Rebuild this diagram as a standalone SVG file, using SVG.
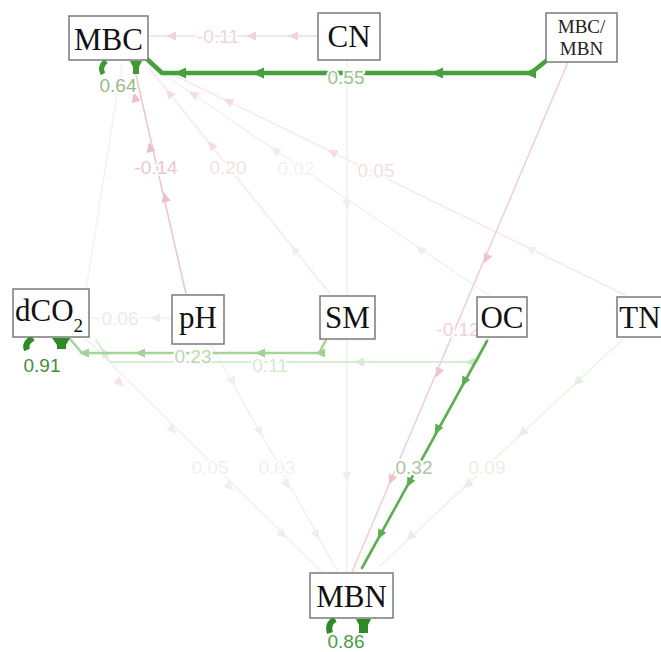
<svg xmlns="http://www.w3.org/2000/svg" xmlns:xlink="http://www.w3.org/1999/xlink" width="661" height="652" viewBox="0 0 661 652">
<style>
.box{fill:#fff;stroke:#7a7a7a;stroke-width:1.5}
.nt{font-family:"Liberation Serif","Times New Roman",serif;font-size:31px;fill:#111;text-anchor:middle}
.nts{font-family:"Liberation Serif","Times New Roman",serif;font-size:19px;fill:#222;text-anchor:middle}
.el{font-family:"Liberation Sans",Arial,sans-serif;font-size:19px;text-anchor:middle;stroke:#fff;stroke-width:4;paint-order:stroke;stroke-linejoin:round}
.e{fill:none;stroke-linecap:round;stroke-linejoin:round}
.stub{fill:none;stroke-linecap:butt}
</style>
<defs>
<path id="ah" d="M5,0 L-5,-4.5 L-5,4.5 Z"/>
<path id="ahb" d="M6,0 L-6,-5.5 L-6,5.5 Z"/>
</defs>
<rect width="661" height="652" fill="#fff"/>
<g id="connectors">
  <!-- faint gray / pink edges -->
  <line class="e" x1="86" y1="290" x2="122" y2="63" stroke="#f2f2f2" stroke-width="1.5"/>
  <line class="e" x1="347" y1="60" x2="347" y2="295" stroke="#f0f0f0" stroke-width="1.5"/>
  <use xlink:href="#ah" transform="translate(347,205) rotate(90)" fill="#eeeeee"/>
  <line class="e" x1="347" y1="339" x2="347" y2="572" stroke="#f0f0f0" stroke-width="1.5"/>
  <use xlink:href="#ah" transform="translate(347,477) rotate(90)" fill="#eeeeee"/>

  <line class="e" x1="330" y1="294" x2="150" y2="69" stroke="#f8e9eb" stroke-width="1.5"/>
  <use xlink:href="#ah" transform="translate(169,93) rotate(-128.6)" fill="#f5dde1"/>
  <use xlink:href="#ah" transform="translate(211,145) rotate(-128.6)" fill="#f5dde1"/>
  <use xlink:href="#ah" transform="translate(294,249) rotate(-128.6)" fill="#f2eeee"/>
  <text class="el" x="228" y="174" fill="#f5e2e5">0.20</text>

  <line class="e" x1="490" y1="296" x2="160" y2="72" stroke="#f1f1f1" stroke-width="1.5"/>
  <use xlink:href="#ah" transform="translate(193,94) rotate(-145.8)" fill="#f3e0e3"/>
  <use xlink:href="#ah" transform="translate(275,150) rotate(-145.8)" fill="#eeeeee"/>
  <use xlink:href="#ah" transform="translate(420,249) rotate(-145.8)" fill="#eeeeee"/>
  <text class="el" x="296" y="175" fill="#f2f2f2">0.02</text>

  <line class="e" x1="625" y1="295" x2="172" y2="74" stroke="#f7e9eb" stroke-width="1.5"/>
  <use xlink:href="#ah" transform="translate(228,101) rotate(-153.9)" fill="#f4dce0"/>
  <use xlink:href="#ah" transform="translate(332,152) rotate(-153.9)" fill="#f4dce0"/>
  <use xlink:href="#ah" transform="translate(530,249) rotate(-153.9)" fill="#f0f0f0"/>
  <text class="el" x="376" y="177" fill="#f3dfe2">0.05</text>

  <!-- CN -> MBC -->
  <line class="e" x1="318" y1="36" x2="148" y2="36" stroke="#f6dde1" stroke-width="1.5"/>
  <use xlink:href="#ah" transform="translate(171,36) rotate(180)" fill="#f3d2d8"/>
  <use xlink:href="#ah" transform="translate(251,36) rotate(180)" fill="#f3d2d8"/>
  <use xlink:href="#ah" transform="translate(293,36) rotate(180)" fill="#f3d2d8"/>
  <text class="el" x="218" y="43" fill="#f2d3d8">-0.11</text>

  <!-- pH -> MBC -->
  <line class="e" x1="186" y1="294" x2="133" y2="62" stroke="#efc6ce" stroke-width="1.6"/>
  <use xlink:href="#ah" transform="translate(135,97) rotate(-102.9)" fill="#edc0c9"/>
  <use xlink:href="#ah" transform="translate(150,147) rotate(-102.9)" fill="#edc0c9"/>
  <use xlink:href="#ah" transform="translate(165,197) rotate(-102.9)" fill="#edc0c9"/>
  <text class="el" x="156" y="174" fill="#ecc6cd">-0.14</text>

  <!-- MBC/MBN -> MBC -->
  <polyline class="e" points="546,61 531,73 162,73 148,60" stroke="#46a03c" stroke-width="4.5"/>
  <use xlink:href="#ahb" transform="translate(530,73) rotate(180)" fill="#46a03c"/>
  <use xlink:href="#ahb" transform="translate(437,73) rotate(180)" fill="#46a03c"/>
  <use xlink:href="#ahb" transform="translate(258,73) rotate(180)" fill="#46a03c"/>
  <use xlink:href="#ahb" transform="translate(180,73) rotate(180)" fill="#46a03c"/>
  <text class="el" x="346" y="84" fill="#93c58b" stroke-width="6">0.55</text>

  <!-- pH -> dCO2 -->
  <line class="e" x1="172" y1="318" x2="89" y2="318" stroke="#f0f5ee" stroke-width="1.5"/>
  <use xlink:href="#ah" transform="translate(155,318) rotate(180)" fill="#e8f0e6"/>
  <text class="el" x="120" y="325" fill="#e6eee4">0.06</text>

  <!-- dCO2 -> MBN, pH -> MBN -->
  <line class="e" x1="85" y1="338" x2="322" y2="572" stroke="#f2f0f0" stroke-width="1.5"/>
  <use xlink:href="#ah" transform="translate(120,383) rotate(44.6)" fill="#f5e3e5"/>
  <use xlink:href="#ah" transform="translate(173,430) rotate(44.6)" fill="#eeeeee"/>
  <use xlink:href="#ah" transform="translate(230,487) rotate(44.6)" fill="#eeeeee"/>
  <use xlink:href="#ah" transform="translate(283,535) rotate(44.6)" fill="#eeeeee"/>
  <text class="el" x="210" y="474" fill="#f0f0f0">0.05</text>
  <line class="e" x1="209" y1="341" x2="338" y2="572" stroke="#f1f1f1" stroke-width="1.5"/>
  <use xlink:href="#ah" transform="translate(233,382) rotate(60.9)" fill="#e9f2e7"/>
  <use xlink:href="#ah" transform="translate(260,432) rotate(60.9)" fill="#eeeeee"/>
  <use xlink:href="#ah" transform="translate(287,485) rotate(60.9)" fill="#eeeeee"/>
  <use xlink:href="#ah" transform="translate(317,535) rotate(60.9)" fill="#eeeeee"/>
  <text class="el" x="277" y="474" fill="#f0f0f0">0.03</text>

  <!-- TN -> MBN -->
  <line class="e" x1="624" y1="338" x2="380" y2="566" stroke="#ebf4e8" stroke-width="1.6"/>
  <use xlink:href="#ah" transform="translate(577,382) rotate(137.1)" fill="#e4efe1"/>
  <use xlink:href="#ah" transform="translate(522,433) rotate(137.1)" fill="#e4efe1"/>
  <use xlink:href="#ah" transform="translate(467,485) rotate(137.1)" fill="#e4efe1"/>
  <use xlink:href="#ah" transform="translate(410,537) rotate(137.1)" fill="#e4efe1"/>
  <text class="el" x="487" y="474" fill="#e6f0e3">0.09</text>

  <!-- OC -> dCO2 -->
  <polyline class="e" points="488,339 477,362 110,362 96,340" stroke="#d8eed3" stroke-width="1.8"/>
  <use xlink:href="#ah" transform="translate(470,362) rotate(180)" fill="#cde8c7"/>
  <use xlink:href="#ah" transform="translate(359,362) rotate(180)" fill="#d8ebd4"/>
  <use xlink:href="#ah" transform="translate(104,352) rotate(-123)" fill="#d8ebd4"/>
  <text class="el" x="270" y="372" fill="#d5eacf">0.11</text>

  <!-- SM -> dCO2 -->
  <polyline class="e" points="326,340 319,353 82,353 70,339" stroke="#a3d599" stroke-width="2.5"/>
  <use xlink:href="#ah" transform="translate(320,353) rotate(180)" fill="#9fd395"/>
  <use xlink:href="#ah" transform="translate(260,353) rotate(180)" fill="#9fd395"/>
  <use xlink:href="#ah" transform="translate(140,353) rotate(180)" fill="#9fd395"/>
  <use xlink:href="#ah" transform="translate(84,353) rotate(180)" fill="#9fd395"/>
  <text class="el" x="193" y="363" fill="#b6daad">0.23</text>

  <!-- MBC/MBN -> MBN -->
  <line class="e" x1="568" y1="62" x2="352" y2="572" stroke="#f2ccd3" stroke-width="1.5"/>
  <use xlink:href="#ah" transform="translate(486,259) rotate(113)" fill="#f0c2cb"/>
  <use xlink:href="#ah" transform="translate(438,373) rotate(113)" fill="#f0c2cb"/>
  <use xlink:href="#ah" transform="translate(391,480) rotate(113)" fill="#f0c2cb"/>
  <text class="el" x="458" y="336" fill="#f1d2d8">-0.12</text>

  <!-- OC -> MBN -->
  <line class="e" x1="487" y1="341" x2="362" y2="568" stroke="#5caf50" stroke-width="2.6"/>
  <use xlink:href="#ah" transform="translate(464,382) rotate(118.7)" fill="#5caf50"/>
  <use xlink:href="#ah" transform="translate(437,430) rotate(118.7)" fill="#5caf50"/>
  <use xlink:href="#ah" transform="translate(409,483) rotate(118.7)" fill="#5caf50"/>
  <use xlink:href="#ah" transform="translate(380,535) rotate(118.7)" fill="#5caf50"/>
  <text class="el" x="414" y="474" fill="#a6c69d">0.32</text>

  <!-- residual loops -->
  <path class="stub" d="M106,61 Q99,67 103,74" stroke="#3e9a33" stroke-width="5"/>
  <path d="M130,61 L142,61 L139,67 L139,74 L133,74 L133,67 Z" fill="#3e9a33"/>
  <text class="el" x="118" y="92" fill="#94bc8c" stroke-width="3">0.64</text>

  <path class="stub" d="M33,338 Q24,343 27,350" stroke="#2e8a24" stroke-width="6"/>
  <path d="M52,338 L70,338 L66,345 L66,349 L57,349 L57,345 Z" fill="#2e8a24"/>
  <text class="el" x="42" y="372" fill="#3f8f3a" stroke-width="3">0.91</text>

  <path class="stub" d="M335,619 Q327,624 330,633" stroke="#2e8a24" stroke-width="6"/>
  <path d="M356,619 L371,619 L368,625 L368,633 L359,633 L359,625 Z" fill="#2e8a24"/>
  <text class="el" x="346" y="648" fill="#4d9d48" stroke-width="3">0.86</text>
</g>
<g id="node-MBC">
  <rect class="box" x="69" y="16" width="79" height="44"/>
  <text class="nt" x="108.5" y="50">MBC</text>
</g>
<g id="node-CN">
  <rect class="box" x="318" y="13" width="62" height="47"/>
  <text class="nt" x="349" y="47">CN</text>
</g>
<g id="node-MBC-MBN">
  <rect class="box" x="546" y="13" width="71" height="49"/>
  <text class="nts" x="581.5" y="33">MBC/</text>
  <text class="nts" x="581.5" y="55">MBN</text>
</g>
<g id="node-dCO2">
  <rect class="box" x="13" y="289" width="76" height="48"/>
  <text class="nt" x="15" y="321" style="text-anchor:start">dCO<tspan font-size="19" dy="11">2</tspan></text>
</g>
<g id="node-pH">
  <rect class="box" x="172" y="295" width="52" height="49"/>
  <text class="nt" x="198" y="328">pH</text>
</g>
<g id="node-SM">
  <rect class="box" x="320" y="296" width="55" height="43"/>
  <text class="nt" x="347.5" y="328">SM</text>
</g>
<g id="node-OC">
  <rect class="box" x="477" y="297" width="50" height="40"/>
  <text class="nt" x="502" y="328">OC</text>
</g>
<g id="node-TN">
  <rect class="box" x="617" y="297" width="50" height="40"/>
  <text class="nt" x="640" y="328">TN</text>
</g>
<g id="node-MBN">
  <rect class="box" x="310" y="573" width="83" height="45"/>
  <text class="nt" x="351.5" y="607">MBN</text>
</g>
</svg>
